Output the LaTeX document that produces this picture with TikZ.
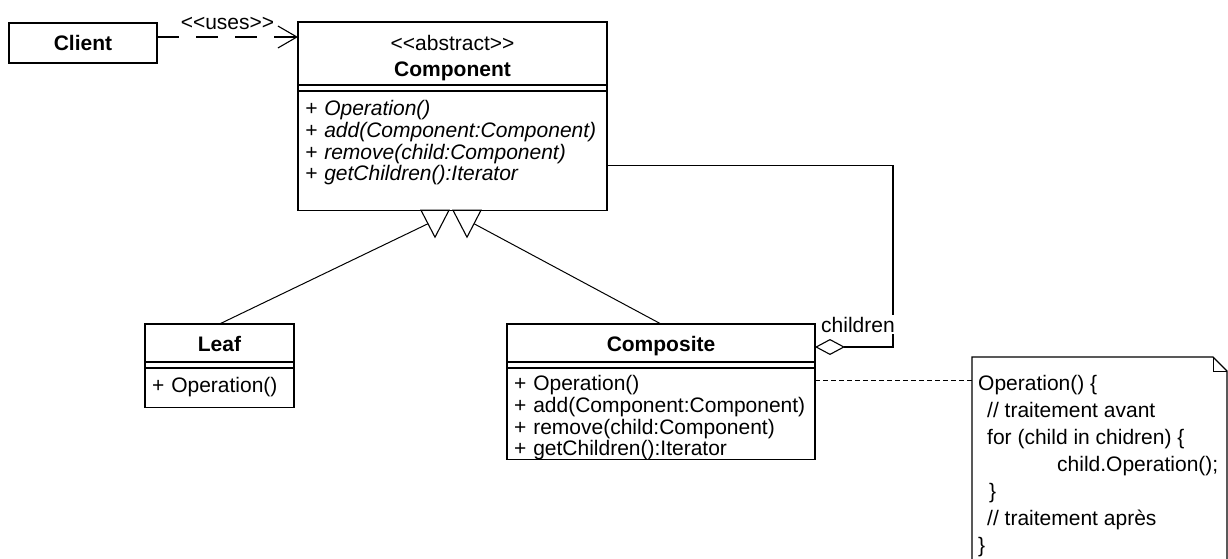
\documentclass[tikz,border=0pt]{standalone}
\usepackage{fontspec}
\setmainfont{Liberation Sans}
\usetikzlibrary{arrows.meta, positioning}

\begin{document}
\begin{tikzpicture}[x=1pt, y=-1pt,
    every node/.style={font=\fontsize{21}{21.7}\selectfont},
    classhead/.style={draw, line width=1.1pt, outer sep=0pt, inner sep=0pt, minimum width=#1, minimum height=38pt, font=\fontsize{21}{26}\selectfont\bfseries},
    attrbox/.style={draw, line width=1.1pt, outer sep=0pt, inner sep=0pt, minimum width=#1, minimum height=6pt},
    opsbox/.style={draw, line width=1.1pt, outer sep=0pt, inner xsep=7pt, inner ysep=9.5pt, align=left, text width=#1},
    notebox/.style={inner sep=0pt, outer sep=0pt, minimum width=255pt, minimum height=220pt},
    lbl/.style={inner sep=2pt, fill=white},
    usesline/.style={line width=1.1pt, dash pattern=on 22pt off 17pt, -{Straight Barb[length=19pt, width=22pt]}},
    aggregation/.style={line width=1.1pt, -{Diamond[open, length=30pt, width=16pt]}},
    genline/.style={line width=1pt},
    gentip/.style={line width=1.1pt, fill=white},
    notelink/.style={line width=1pt, dash pattern=on 5pt off 3pt},
]
\path[use as bounding box, fill=white] (0,0) rectangle (1228,559);

% classes
\node[classhead=148pt, minimum height=40pt, anchor=north west] (client) at (9,23) {Client};

\node[classhead=309pt, minimum height=63pt, anchor=north west, align=center, font=\fontsize{21}{26}\selectfont] (comp) at (298,22) {\rule{0pt}{25pt}<\kern0pt<abstract>\kern0pt>\\\textbf{Component}};
\node[attrbox=309pt, below=0pt of comp] (compattr) {};
\node[opsbox=295pt, below=0pt of compattr, text depth=85pt, font=\fontsize{21}{21.7}\selectfont\itshape] (compops) {+ Operation()\\+ add(Component:Component)\\+ remove(child:Component)\\+ getChildren():Iterator};

\node[classhead=149pt, anchor=north west, text height=17pt, text depth=0pt] (leaf) at (145,324) {Leaf};
\node[attrbox=149pt, below=0pt of leaf] (leafattr) {};
\node[opsbox=135pt, below=0pt of leafattr, text depth=5pt] (leafops) {+ Operation()};

\node[classhead=308pt, anchor=north west, text height=17pt, text depth=0pt] (composite) at (507,324) {Composite};
\node[attrbox=308pt, below=0pt of composite] (compositeattr) {};
\node[opsbox=294pt, below=0pt of compositeattr, inner ysep=7.5pt, text depth=61pt] (compositeops) {+ Operation()\\+ add(Component:Component)\\+ remove(child:Component)\\+ getChildren():Iterator};

% note
\node[notebox, anchor=north west] (note) at (972,357) {};
\draw[line width=1.1pt] (note.south west) -- (note.north west) -- ([xshift=-14pt]note.north east) -- ([yshift=-14pt]note.north east) -- (note.south east);
\draw[line width=1pt] ([xshift=-14pt]note.north east) -- ([xshift=-14pt, yshift=-14pt]note.north east) -- ([yshift=-14pt]note.north east);
\node[inner sep=0pt, align=left, font=\fontsize{21}{27}\selectfont, below right=18pt and 6pt of note.north west] (notecode) {Operation() \{\\
\hspace*{9pt}// traitement avant\\
\hspace*{9pt}for (child in chidren) \{\\
\hspace*{79pt}child.Operation();\\
\hspace*{11pt}\}\\
\hspace*{9pt}// traitement après\\
\}};

% uses
\coordinate (usesstart) at ([yshift=6pt]client.east);
\draw[usesline] (usesstart) -- (usesstart -| comp.west) node[midway, above=5pt, inner sep=2pt] (useslbl) {<\kern0pt<uses>\kern0pt>};

% generalization
\coordinate (leafjoin) at ([xshift=-24.5pt, yshift=-13.5pt]compops.south);
\coordinate (compositejoin) at ([xshift=21.5pt, yshift=-13.5pt]compops.south);
\draw[genline] (leaf.north) -- (leafjoin);
\draw[genline] (composite.north) -- (compositejoin);
\draw[gentip] ([xshift=-31.5pt]compops.south) -- ([xshift=-17.5pt, yshift=-27pt]compops.south) -- ([xshift=-3.5pt]compops.south) -- cycle;
\draw[gentip] ([xshift=0.5pt]compops.south) -- ([xshift=14.5pt, yshift=-27pt]compops.south) -- ([xshift=28.5pt]compops.south) -- cycle;

% aggregation
\coordinate (aggstart) at ([yshift=-15pt]compops.east);
\coordinate (aggend) at ([yshift=-4pt]composite.east);
\draw[aggregation] (aggstart) -- ++(286,0) |- (aggend);
\node[lbl, anchor=base west] (childlbl) at ([xshift=4pt, yshift=-8pt]composite.north east) {children};

% note link
\coordinate (linkstart) at ([yshift=-12pt]compositeops.north east);
\draw[notelink] (linkstart) -- (linkstart -| note.west);

\end{tikzpicture}
\end{document}
